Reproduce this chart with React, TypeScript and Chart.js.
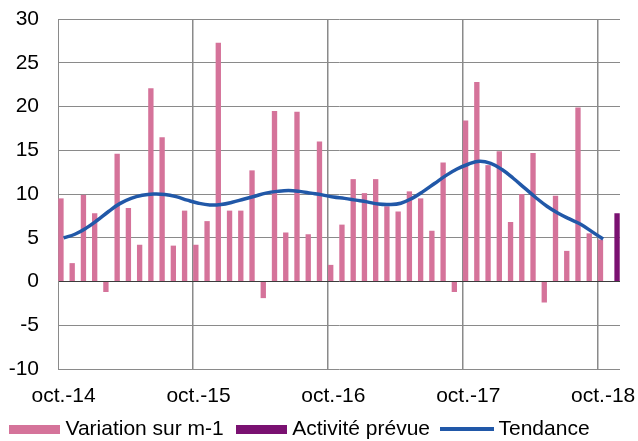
import React, { useEffect, useRef } from "react";
import { Chart, registerables } from "chart.js";

Chart.register(...registerables);

const monthNames = ["oct.", "nov.", "déc.", "janv.", "févr.", "mars", "avr.", "mai", "juin", "juil.", "août", "sept."];
const startYear = 14;
const monthCount = 50;

const variationSurM1 = [
  9.5, 2.1, 9.9, 7.8, -1.2, 14.6, 8.4, 4.2, 22.1, 16.5, 4.1, 8.1,
  4.2, 6.9, 27.3, 8.1, 8.1, 12.7, -1.9, 19.5, 5.6, 19.4, 5.4, 16.0,
  1.9, 6.5, 11.7, 10.1, 11.7, 8.6, 8.0, 10.3, 9.5, 5.8, 13.6, -1.2,
  18.4, 22.8, 13.3, 14.9, 6.8, 10.0, 14.7, -2.4, 9.8, 3.5, 19.9, 5.5,
  4.8, null,
];

const activitePrevueLabel = "nov.-18";
const activitePrevueValue = 7.8;

const tendance = [
  5.0, 5.4, 6.1, 7.0, 8.0, 8.9, 9.5, 9.85, 10.0, 9.95, 9.7, 9.3,
  8.95, 8.75, 8.8, 9.05, 9.4, 9.75, 10.1, 10.3, 10.4, 10.3, 10.1, 9.9,
  9.65, 9.5, 9.3, 9.1, 8.85, 8.8, 8.95, 9.5, 10.3, 11.2, 12.1, 12.85,
  13.4, 13.75, 13.5, 12.8, 11.8, 10.7, 9.6, 8.6, 7.8, 7.15, 6.55, 5.7,
  4.85, null,
];

const categories: string[] = [];
for (let i = 0; i < monthCount; i++) {
  const m = i % 12;
  const yr = startYear + Math.floor((i + 9) / 12);
  categories.push(monthNames[m] + "-" + yr);
}

const PINK = "#D5739A";
const PURPLE = "#7A1171";
const BLUE = "#2158A8";
const GRID = "#8a8a8a";
const FONT = "'Liberation Sans', Arial, sans-serif";

function makeIcon(w: number, h: number, color: string) {
  const c = document.createElement("canvas");
  c.width = w;
  c.height = h;
  const ctx = c.getContext("2d")!;
  ctx.fillStyle = color;
  ctx.fillRect(0, 0, w, h);
  return c;
}

export default function App() {
  const ref = useRef<HTMLCanvasElement>(null);

  useEffect(() => {
    if (!ref.current) return;
    const icons = [makeIcon(51, 9, PINK), makeIcon(51, 9, PURPLE), makeIcon(54, 4, BLUE)];
    const labelsText = ["Variation sur m-1", "Activité prévue", "Tendance"];

    const legendShift = {
      id: "legendShift",
      afterUpdate(chart: any) {
        const l = chart.legend;
        if (l) {
          l.top += 8.5;
          l.bottom += 8.5;
          l.left -= 8.25;
          l.right -= 8.25;
        }
        const xs = chart.scales.x;
        if (xs) xs.bottom += 40;
      },
    };

    const chart = new Chart(ref.current, {
      type: "bar",
      data: {
        labels: categories,
        datasets: [
          {
            type: "bar",
            label: "Variation sur m-1",
            data: variationSurM1,
            backgroundColor: PINK,
            categoryPercentage: 0.95,
            barPercentage: 1.0,
            order: 1,
          },
          {
            type: "bar",
            label: "Activité prévue",
            data: categories.map((c) => (c === activitePrevueLabel ? activitePrevueValue : null)),
            backgroundColor: PURPLE,
            categoryPercentage: 0.95,
            barPercentage: 1.0,
            order: 1,
          },
          {
            type: "line",
            label: "Tendance",
            data: tendance,
            borderColor: BLUE,
            backgroundColor: BLUE,
            borderWidth: 3.5,
            pointRadius: 0,
            tension: 0.4,
            fill: false,
            order: 0,
          },
        ] as any,
      },
      options: {
        responsive: false,
        animation: false,
        layout: { padding: { left: 0, right: 18, top: 19, bottom: 0 } },
        font: { family: FONT },
        plugins: {
          tooltip: { enabled: false },
          legend: {
            position: "bottom",
            labels: {
              font: { family: FONT, size: 21 },
              color: "#000",
              usePointStyle: true,
              pointStyleWidth: 41,
              padding: 17,
              generateLabels: () =>
                labelsText.map((t, i) => ({
                  text: t,
                  pointStyle: icons[i],
                  fillStyle: "transparent",
                  strokeStyle: "transparent",
                  lineWidth: 0,
                  hidden: false,
                  datasetIndex: i,
                  fontColor: "#000",
                })) as any,
            },
          },
        },
        scales: {
          x: {
            offset: true,
            grid: {
              offset: true,
              drawTicks: false,
              color: (ctx: any) => (ctx.index > 0 && ctx.index % 12 === 0 ? GRID : "rgba(0,0,0,0)"),
              lineWidth: 1.5,
            },
            border: { display: false },
            ticks: {
              autoSkip: false,
              maxRotation: 0,
              minRotation: 0,
              padding: 15,
              color: "#000",
              font: { family: FONT, size: 21 },
              callback: (_v: any, idx: number) => (idx % 12 === 0 ? categories[idx] : ""),
            },
            afterFit: (scale: any) => {
              scale.height = 24;
            },
          },
          y: {
            min: -10,
            max: 30,
            grid: {
              drawTicks: false,
              color: (ctx: any) => (ctx.tick && ctx.tick.value === 0 ? "#3c3c3c" : GRID),
              lineWidth: 1,
            },
            border: { display: true, color: GRID, width: 1 },
            ticks: {
              stepSize: 5,
              padding: 19,
              color: "#000",
              font: { family: FONT, size: 21 },
            },
            afterFit: (scale: any) => {
              scale.width = 58;
              scale.paddingTop = 0;
              scale.paddingBottom = 0;
            },
          },
        },
      } as any,
      plugins: [legendShift],
    });
    return () => chart.destroy();
  }, []);

  return (
    <div style={{ position: "fixed", left: 0, top: 0, width: 638, height: 441, background: "#fff" }}>
      <canvas ref={ref} width={638} height={441} style={{ display: "block" }} />
    </div>
  );
}
